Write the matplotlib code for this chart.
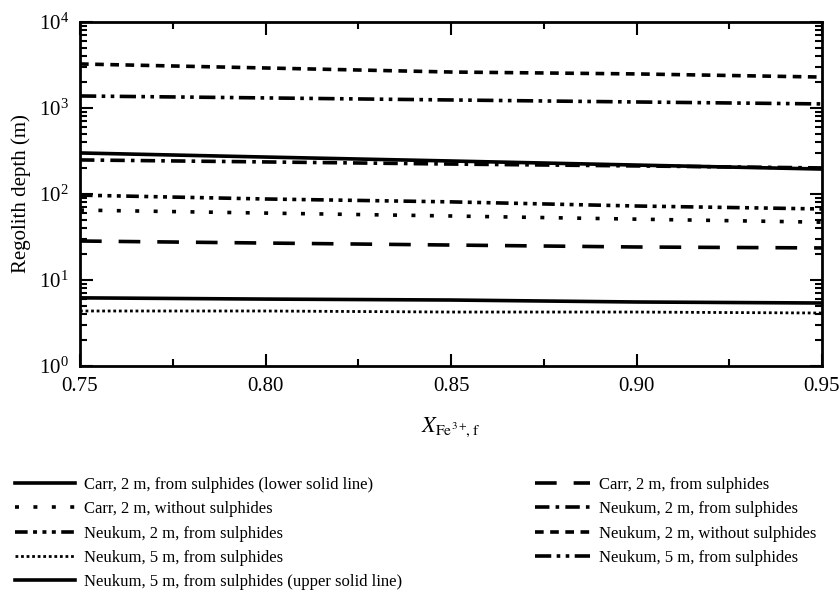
import matplotlib
matplotlib.use("Agg")
import matplotlib.pyplot as plt

plt.rcParams["font.family"] = ["Liberation Serif", "DejaVu Serif"]
plt.rcParams["mathtext.fontset"] = "stix"

# ── data ─────────────────────────────────────────────────────────────────────
x_frac = [0.75, 0.80, 0.85, 0.90, 0.95]

carr2_sulph_lower = [6.2, 6.0, 5.85, 5.55, 5.4]
carr2_no_sulph    = [65, 60, 55.5, 51, 47]
neuk2_sulph_a     = [97, 87.5, 81, 72.5, 67]
neuk5_sulph_dot   = [4.36, 4.36, 4.24, 4.24, 4.13]
neuk5_sulph_upper = [300, 269, 242, 217, 195]
carr2_sulph       = [28.4, 26.9, 25.5, 24.2, 23.6]
neuk2_sulph_b     = [249, 236, 223, 212, 201]
neuk2_no_sulph    = [3250, 2920, 2620, 2490, 2290]
neuk5_sulph_dd    = [1380, 1310, 1240, 1175, 1115]

LW = 2.6

fig = plt.figure(figsize=(8.4, 6.04), dpi=100)
ax = fig.add_axes([80 / 840, 1 - 366 / 604, 742 / 840, 344 / 604])

h = []
h += ax.plot(x_frac, carr2_sulph_lower, color="black", lw=LW,
             label="Carr, 2 m, from sulphides (lower solid line)")
h += ax.plot(x_frac, carr2_no_sulph, color="black", lw=LW, dashes=(1.1, 4),
             label="Carr, 2 m, without sulphides")
h += ax.plot(x_frac, neuk2_sulph_a, color="black", lw=LW,
             dashes=(3.5, 1.5, 1.1, 1.5, 1.1, 1.5, 1.1, 1.5),
             label="Neukum, 2 m, from sulphides")
h += ax.plot(x_frac, neuk5_sulph_dot, color="black", lw=2.0, dashes=(1, 1),
             label="Neukum, 5 m, from sulphides")
h += ax.plot(x_frac, neuk5_sulph_upper, color="black", lw=LW,
             label="Neukum, 5 m, from sulphides (upper solid line)")
h += ax.plot(x_frac, carr2_sulph, color="black", lw=LW, dashes=(6, 4.7),
             label="Carr, 2 m, from sulphides")
h += ax.plot(x_frac, neuk2_sulph_b, color="black", lw=LW, dashes=(4, 1.7, 1, 1.7),
             label="Neukum, 2 m, from sulphides")
h += ax.plot(x_frac, neuk2_no_sulph, color="black", lw=LW, dashes=(2.4, 1.8),
             label="Neukum, 2 m, without sulphides")
h += ax.plot(x_frac, neuk5_sulph_dd, color="black", lw=LW,
             dashes=(4.5, 1.5, 1, 1.5, 1, 1.5),
             label="Neukum, 5 m, from sulphides")

ax.set_yscale("log")
ax.set_xlim(0.75, 0.95)
ax.set_ylim(1, 1e4)
ax.set_xticks([0.75, 0.80, 0.85, 0.90, 0.95])
ax.set_xticklabels(["0.75", "0.80", "0.85", "0.90", "0.95"])
ax.set_xticks([0.775, 0.825, 0.875, 0.925], minor=True)
ax.tick_params(which="both", direction="in", top=True, right=True,
               labelsize=15, width=1.5, pad=8)
ax.tick_params(which="major", length=9)
ax.tick_params(which="minor", length=5)
for s in ax.spines.values():
    s.set_linewidth(2.0)

ax.set_ylabel("Regolith depth (m)", fontsize=15, labelpad=6)
ax.set_xlabel(r"$X_{\mathrm{Fe}^{3+}\!,\mathrm{f}}$", fontsize=16, labelpad=14)

leg_kw = dict(frameon=False, fontsize=12, handlelength=3.6, handletextpad=0.55,
              labelspacing=0.5, borderpad=0, borderaxespad=0, loc="upper left")
fig.legend(handles=h[:5], bbox_to_anchor=(15 / 840, 1 - 477 / 604), **leg_kw)
leg_kw["handlelength"] = 3.3
fig.legend(handles=h[5:], bbox_to_anchor=(535 / 840, 1 - 477 / 604), **leg_kw)

fig.savefig("out.png", dpi=100)
